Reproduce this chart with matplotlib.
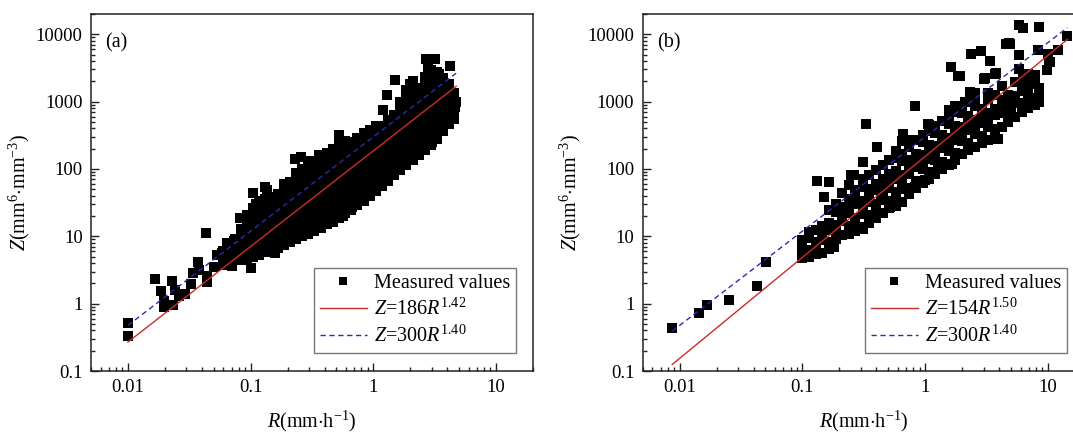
import matplotlib
matplotlib.use("Agg")
import matplotlib.pyplot as plt
import numpy as np

plt.rcParams['font.family'] = 'serif'
plt.rcParams['font.serif'] = ['Liberation Serif', 'DejaVu Serif']
plt.rcParams['mathtext.fontset'] = 'custom'
plt.rcParams['mathtext.rm'] = 'Liberation Serif'
plt.rcParams['mathtext.it'] = 'Liberation Serif:italic'
plt.rcParams['mathtext.bf'] = 'Liberation Serif:bold'

# ---------------- data: panel (a) ----------------
a_col_R = [0.060, 0.067, 0.075, 0.084, 0.094, 0.105, 0.118, 0.132, 0.148, 0.166,
           0.186, 0.209, 0.234, 0.263, 0.295, 0.331, 0.372, 0.417, 0.468, 0.525,
           0.589, 0.661, 0.741, 0.832, 0.933, 1.047, 1.175, 1.318, 1.479, 1.660,
           1.862, 2.089, 2.344, 2.630, 2.951, 3.311, 3.715, 4.169, 4.5]
a_col_Z = [
    [3.8, 4.8, 6.0],
    [4.2, 5.3, 6.6, 8.0],
    [4.6, 5.8, 7.2, 9.0],
    [4.4, 5.5, 6.8, 8.5, 10.5, 13],
    [4.8, 6.0, 7.5, 9.4, 12, 15, 21],
    [5.0, 6.3, 8.0, 10, 12.5, 16, 20, 26],
    [5.3, 6.7, 8.4, 10.5, 13, 16.5, 21, 27],
    [5.8, 7.3, 9.2, 11.5, 14.5, 18, 23, 29, 36],
    [6.2, 7.8, 9.8, 12.3, 15.5, 19.5, 24.5, 31, 39],
    [6.8, 8.5, 10.7, 13.5, 17, 21, 27, 34, 43],
    [7.5, 9.4, 11.8, 15, 19, 24, 30, 38, 48, 60],
    [8.3, 10.4, 13, 16.5, 21, 26, 33, 41, 52, 65],
    [9, 11.3, 14.2, 18, 22.5, 28, 35.5, 45, 56, 70, 88],
    [10, 12.6, 15.8, 20, 25, 31.5, 40, 50, 63, 79, 100],
    [11, 13.8, 17.4, 22, 27.5, 34.5, 43.5, 55, 69, 87, 110],
    [12, 15, 19, 24, 30, 38, 48, 60, 76, 95, 120],
    [13.5, 17, 21.5, 27, 34, 43, 54, 68, 85, 107, 135],
    [15, 19, 24, 30, 38, 48, 60, 76, 95, 120, 150, 175],
    [16.5, 21, 26, 33, 42, 52, 66, 83, 105, 130, 165, 200],
    [19, 24, 30, 38, 48, 60, 75, 95, 120, 150, 190, 230],
    [22, 27.5, 35, 44, 55, 69, 87, 110, 138, 174, 220, 260],
    [25, 31.5, 40, 50, 63, 79, 100, 126, 158, 200, 250],
    [29, 36, 46, 58, 73, 92, 115, 145, 182, 230, 290],
    [34, 43, 54, 68, 85, 107, 135, 170, 214, 270, 340],
    [40, 50, 63, 80, 100, 126, 158, 200, 250, 315, 380],
    [47, 59, 74, 93, 117, 147, 185, 233, 293, 370, 430],
    [55, 69, 87, 110, 138, 174, 219, 275, 347, 437],
    [66, 83, 105, 132, 166, 209, 263, 331, 417, 525],
    [80, 100, 126, 159, 200, 252, 317, 400, 503, 630],
    [95, 120, 151, 190, 239, 301, 379, 477, 600, 760, 1000],
    [115, 145, 182, 229, 288, 363, 457, 575, 724, 910, 1200, 1500],
    [135, 170, 214, 269, 339, 427, 537, 676, 851, 1070, 1350, 1700],
    [160, 200, 252, 317, 400, 503, 634, 798, 1000, 1260, 1600],
    [190, 240, 302, 380, 479, 603, 759, 955, 1200, 1500, 1900, 2300],
    [230, 290, 365, 460, 580, 730, 918, 1150, 1450, 1830, 2300],
    [280, 350, 440, 555, 700, 880, 1100, 1390, 1750, 2200, 2800],
    [360, 450, 570, 720, 900, 1130, 1420, 1800, 2250],
    [460, 580, 730, 920, 1150, 1450, 1800],
    [560, 700, 880, 1100, 1350],
]
a_out_R = [0.01, 0.01, 0.0165, 0.0186, 0.0197, 0.0197, 0.023, 0.0235, 0.024, 0.026,
           0.029, 0.0325, 0.034, 0.037, 0.038, 0.0435, 0.044, 0.044, 0.05, 0.053,
           0.058, 0.064, 0.07, 0.073, 0.086, 0.082, 0.1, 0.104, 0.11, 0.13,
           0.135, 0.11, 0.117, 0.159, 0.17, 0.255, 0.23, 0.36, 0.3, 0.52,
           1.2, 1.28, 1.5, 2.67, 3.2, 4.2, 4.55, 4.3, 2.95, 2.1,
           1.95, 3.0, 3.0, 3.9, 3.3, 1.33, 0.97, 0.67, 0.57, 0.36,
           0.26, 0.18, 2.0, 2.05, 2.25, 2.8, 3.0, 3.4, 3.6, 4.7, 4.6, 4.4]
a_out_Z = [0.515, 0.33, 2.3, 1.54, 1.1, 0.9, 2.16, 0.95, 1.6, 1.3,
           1.4, 1.95, 2.85, 4.1, 3.2, 11.1, 2.6, 2.1, 3.5, 5.3,
           5.6, 7.9, 3.6, 8.5, 11.5, 19, 3.4, 44, 5.5, 54,
           48, 30, 34, 5.6, 18, 150, 140, 160, 130, 318,
           740, 1245, 2090, 4260, 4260, 3350, 740, 1300, 2900, 2000,
           1100, 250, 550, 580, 350, 122, 55, 27, 20, 15,
           10, 8.5, 1800, 1500, 1300, 3000, 2500, 2600, 2000, 1000, 820, 650]
a_fit = (186, 1.42)          # Z = a R^b  (red, solid)
a_ref = (300, 1.40)          # Z = a R^b  (blue, dashed)
a_line_R = [0.01, 4.73]

# ---------------- data: panel (b) ----------------
b_col_R = [0.10, 0.113, 0.128, 0.145, 0.165, 0.186, 0.21, 0.24, 0.27, 0.31,
           0.35, 0.40, 0.45, 0.51, 0.58, 0.65, 0.74, 0.84, 0.95, 1.07,
           1.21, 1.37, 1.55, 1.76, 1.99, 2.25, 2.55, 2.89, 3.27, 3.70,
           4.19, 4.74, 5.37, 6.08, 6.88, 7.79, 8.5]
b_col_Z = [
    [4.8, 5.8, 7.0, 8.5],
    [5.0, 6.3, 9.6, 11.5],
    [5.4, 6.6, 8.3, 12.6],
    [5.6, 8.8, 11.2, 14],
    [6.5, 8.1, 12.6, 16, 25],
    [9, 11.6, 14.5, 23, 30],
    [10.5, 16.8, 21, 27, 44],
    [11, 14.2, 22.5, 28, 36, 58],
    [12, 15.2, 19, 30, 38.5, 48],
    [13, 21.5, 26, 33.5, 54, 70],
    [16, 20.5, 32.5, 40, 51, 82],
    [19, 24, 30.5, 49, 60, 96],
    [22, 35, 44.5, 56, 72, 116],
    [26, 33, 52, 67, 84, 135],
    [28, 36.5, 45, 72, 92, 147, 185],
    [32, 51, 64.5, 81, 130, 166, 260],
    [42, 53, 85, 108, 135, 215, 272],
    [52, 66.5, 106, 133, 169, 270],
    [62, 100, 125, 159, 252, 320],
    [70, 89, 142, 178, 227, 362, 450],
    [85, 136, 170, 216, 345, 433],
    [100, 127, 203, 255, 324, 515],
    [115, 183, 233, 293, 467, 592, 745],
    [135, 171, 273, 343, 435, 693, 870],
    [165, 263, 333, 419, 669, 848],
    [190, 241, 384, 484, 614, 978],
    [210, 335, 425, 534, 852, 1080],
    [240, 304, 486, 611, 775],
    [265, 423, 536, 675, 1076, 1360],
    [310, 393, 627, 789, 1260],
    [420, 670, 849, 1068, 1700],
    [500, 632, 1013, 1275],
    [600, 960, 1214, 1936],
    [700, 888, 1414, 1780],
    [800, 1280, 1620, 2578],
    [900, 1144, 1826, 2300],
    [1000, 1264, 1600],
]
b_out_R = [0.0087, 0.0144, 0.0166, 0.0253, 0.043, 0.0508, 0.099, 0.099, 0.132, 0.166,
           0.15, 0.182, 0.314, 0.33, 0.406, 0.247, 0.656, 0.82, 1.06, 1.63,
           1.86, 2.36, 2.82, 2.99, 3.35, 3.69, 4.55, 4.92, 5.77, 6.28,
           8.47, 5.77, 5.8, 6.28, 7.8, 8.3, 9.95, 9.8, 10.4, 12.0,
           14.4, 7.6, 6.3, 4.95, 7.3, 3.93, 2.56, 1.65, 1.26, 0.99,
           0.82, 0.52, 0.44, 0.39, 0.294, 0.207, 0.12, 2.3, 2.55, 2.1,
           4.77, 1.93, 3.05, 3.77, 10.1, 0.261]
b_out_Z = [0.44, 0.72, 0.95, 1.13, 1.82, 4.2, 4.96, 8.8, 66, 64,
           38.5, 7.0, 127, 473, 214, 81, 328, 850, 473, 3270,
           2380, 5050, 5650, 2150, 3980, 2610, 7280, 7280, 13600, 12600,
           12900, 4870, 3090, 2150, 2450, 5790, 5130, 2920, 3900, 5790,
           9440, 1000, 946, 740, 1960, 283, 213, 120, 101, 68,
           54, 27.5, 35, 18.4, 13.8, 10.4, 5.6, 1400, 1350, 1000,
           7500, 2430, 2220, 2700, 3900, 81]
b_fit = (154, 1.50)
b_ref = (300, 1.40)
b_line_R = [0.0087, 14.4]

x_ticks = [0.01, 0.1, 1, 10]
x_ticklabels = ['0.01', '0.1', '1', '10']
y_ticks = [0.1, 1, 10, 100, 1000, 10000]
y_ticklabels = ['0.1', '1', '10', '100', '1000', '10000']

RED = '#cc2b2b'
BLUE = '#2a2ab4'

W, H = 1073, 432
fig = plt.figure(figsize=(W / 100, H / 100), dpi=100)

ax_a = fig.add_axes([91 / W, (H - 371) / H, 442 / W, 357 / H])
ax_b = fig.add_axes([642.7 / W, (H - 371) / H, 442.3 / W, 357 / H])


def flatten(col_R, col_Z):
    rr, zz = [], []
    for r, zs in zip(col_R, col_Z):
        for z in zs:
            rr.append(r)
            zz.append(z)
    return rr, zz


def draw(ax, col_R, col_Z, out_R, out_Z, fit, ref, line_R, panel, legend_x):
    rr, zz = flatten(col_R, col_Z)
    rr += out_R
    zz += out_Z
    ax.plot(rr, zz, 's', color='black', markersize=6.6, markeredgewidth=0,
            linestyle='none', label='Measured values', zorder=2)
    lr = np.array(line_R)
    ax.plot(lr, fit[0] * lr ** fit[1], '-', color=RED, lw=1.0, zorder=3,
            label=r'$Z$=%d$R^{%.2f}$' % (fit[0], fit[1]))
    ax.plot(lr, ref[0] * lr ** ref[1], color=BLUE, lw=1.0, dashes=(3.8, 2.6), zorder=3,
            label=r'$Z$=%d$R^{%.2f}$' % (ref[0], ref[1]))
    ax.set_xscale('log')
    ax.set_yscale('log')
    ax.set_xlim(0.005, 20)
    ax.set_ylim(0.1, 20000)
    ax.set_xticks(x_ticks)
    ax.set_xticklabels(x_ticklabels)
    ax.set_yticks(y_ticks)
    ax.set_yticklabels(y_ticklabels)
    ax.tick_params(which='both', direction='in', top=False, right=False,
                   labelsize=13.5, width=1.0, color='#222222')
    ax.tick_params(which='major', length=5.5, pad=6)
    ax.tick_params(which='minor', length=3)
    for s in ax.spines.values():
        s.set_linewidth(1.1)
        s.set_color('#222222')
    ax.set_xlabel(r'$R$(mm$\cdot$h$^{-1}$)', fontsize=14.5, labelpad=9)
    ax.set_ylabel(r'$Z$(mm$^{6}$$\cdot$mm$^{-3}$)', fontsize=14.5, labelpad=3)
    ax.text(0.032, 0.92, panel, transform=ax.transAxes, fontsize=14.5,
            ha='left', va='center')
    leg = ax.legend(loc='lower right', bbox_to_anchor=(legend_x, 0.05),
                    borderaxespad=0, fontsize=14.5, frameon=True, fancybox=False,
                    edgecolor='#777777', framealpha=1, handlelength=2.3,
                    handletextpad=0.35, labelspacing=0.28, borderpad=0.3,
                    markerscale=0.85)
    leg.get_frame().set_linewidth(1.0)


draw(ax_a, a_col_R, a_col_Z, a_out_R, a_out_Z, a_fit, a_ref, a_line_R, '(a)', 0.9615)
draw(ax_b, b_col_R, b_col_Z, b_out_R, b_out_Z, b_fit, b_ref, b_line_R, '(b)', 0.959)

fig.savefig('out.png', dpi=100)
